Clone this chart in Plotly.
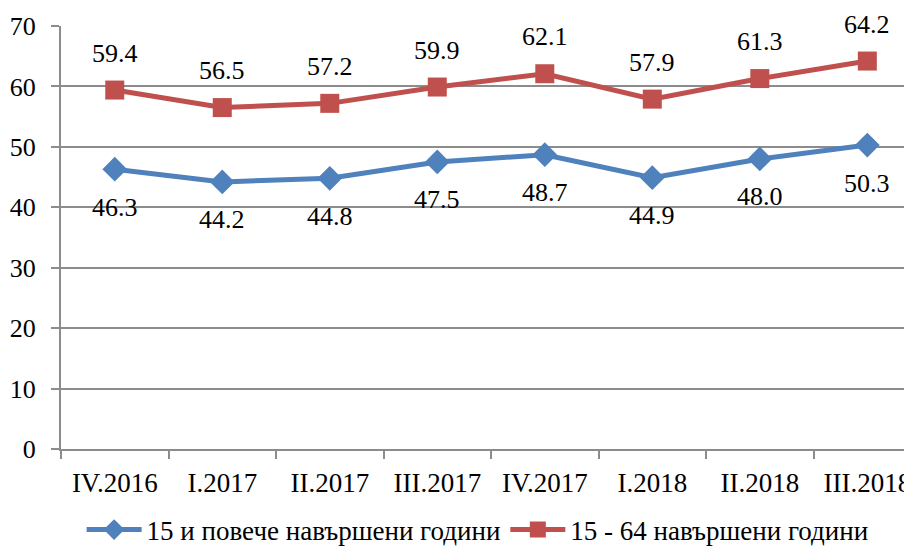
import plotly.graph_objects as go

categories = ["IV.2016", "I.2017", "II.2017", "III.2017", "IV.2017", "I.2018", "II.2018", "III.2018"]
series_15plus = [46.3, 44.2, 44.8, 47.5, 48.7, 44.9, 48.0, 50.3]
series_15_64 = [59.4, 56.5, 57.2, 59.9, 62.1, 57.9, 61.3, 64.2]
name_15plus = "15 и повече навършени години"
name_15_64 = "15 - 64 навършени години"
y_ticks = [0, 10, 20, 30, 40, 50, 60, 70]

FONT = "Times New Roman"
FS = 26
FS_AX = 27
BLUE = "#4F81BD"
RED = "#C0504D"
GRID = "#8c8c8c"

fig = go.Figure()
fig.add_trace(go.Scatter(
    x=categories, y=series_15plus, name=name_15plus, mode="lines+markers",
    line=dict(color=BLUE, width=5),
    marker=dict(symbol="diamond", size=19, color=BLUE),
))
fig.add_trace(go.Scatter(
    x=categories, y=series_15_64, name=name_15_64, mode="lines+markers",
    line=dict(color=RED, width=5),
    marker=dict(symbol="square", size=19, color=RED),
))

for c, v in zip(categories, series_15plus):
    fig.add_annotation(x=c, y=v, text=f"{v:.1f}", showarrow=False, yshift=-38,
                       font=dict(family=FONT, size=FS, color="black"))
for c, v in zip(categories, series_15_64):
    fig.add_annotation(x=c, y=v, text=f"{v:.1f}", showarrow=False, yshift=37,
                       font=dict(family=FONT, size=FS, color="black"))

fig.update_layout(
    width=912, height=547,
    margin=dict(l=53, r=0, t=18, b=106, autoexpand=False),
    paper_bgcolor="white", plot_bgcolor="white",
    font=dict(family=FONT, size=FS, color="black"),
    showlegend=True,
    legend=dict(orientation="h", x=0.485, xanchor="center", y=-0.1915, yanchor="middle",
                font=dict(family=FONT, size=FS_AX, color="black"),
                itemwidth=55, tracegroupgap=0, bgcolor="rgba(0,0,0,0)"),
    xaxis=dict(
        type="category", range=[-0.5, 7.49], automargin=False,
        showgrid=False, showline=True, linecolor=GRID, linewidth=2,
        ticks="outside", tickson="boundaries", ticklen=8, tickcolor=GRID, tickwidth=2,
        ticklabelstandoff=9,
        tickfont=dict(family=FONT, size=FS_AX, color="black"),
    ),
    yaxis=dict(
        range=[0, 70], tickvals=y_ticks, automargin=False,
        showgrid=True, gridcolor=GRID, gridwidth=2,
        showline=True, linecolor=GRID, linewidth=2,
        ticks="outside", ticklen=8, tickcolor=GRID, tickwidth=2,
        ticklabelstandoff=10, zeroline=False,
        tickfont=dict(family=FONT, size=FS, color="black"),
    ),
)

fig.write_html("out.html")
